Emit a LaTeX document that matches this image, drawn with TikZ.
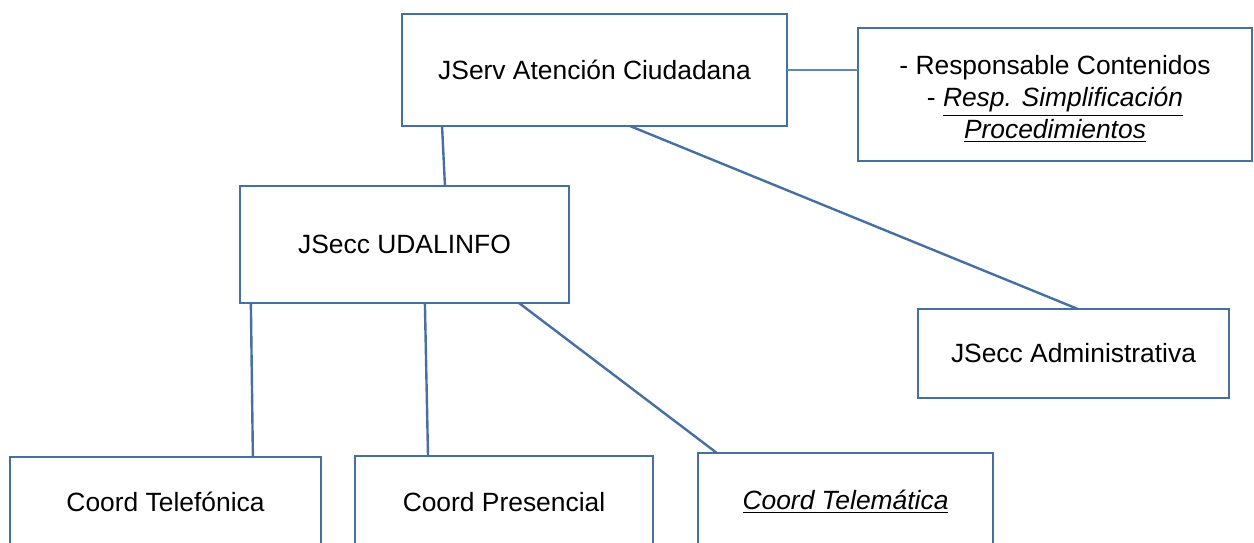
\documentclass[tikz,border=0pt]{standalone}
\usepackage{fontspec}
\setmainfont{Liberation Sans}
\usetikzlibrary{calc}
\definecolor{boxblue}{RGB}{70,112,162}
\definecolor{thinblue}{RGB}{95,135,185}
\begin{document}
\begin{tikzpicture}[x=0.5pt,y=-0.5pt,
  orgbox/.style={draw=boxblue, line width=1.4pt, fill=white, inner sep=0pt, outer sep=0pt,
    align=center, font=\fontsize{13.2}{15.5}\selectfont},
  conn/.style={draw=boxblue, line width=1.2pt},
  thinconn/.style={draw=thinblue, line width=0.6pt}]
\useasboundingbox (0,0) rectangle (1254,542);
\node[orgbox, minimum width=192.5pt, minimum height=56pt] (top) at (594.5,70) {JServ Atención Ciudadana};
\node[orgbox, minimum width=197pt, minimum height=66.5pt] (resp) at (1055,94.5) {\raisebox{-3pt}[\height][\depth]{\begin{tabular}{@{}c@{}}- Responsable Contenidos\\[0.5pt]- \underline{\textit{Resp. Simplificación}}\\[0.5pt]\underline{\textit{Procedimientos}}\end{tabular}}};
\node[orgbox, minimum width=164.5pt, minimum height=58.5pt] (udal) at (404.5,244.5) {JSecc UDALINFO};
\node[orgbox, minimum width=155.5pt, minimum height=44.5pt] (admin) at (1073.5,353.5) {JSecc Administrativa};
\node[orgbox, minimum width=155.5pt, minimum height=45pt] (tel) at (165.5,502) {Coord Telefónica};
\node[orgbox, minimum width=149pt, minimum height=46pt] (pres) at (504,502) {Coord Presencial};
\node[orgbox, minimum width=147.5pt, minimum height=49pt] (telem) at (845.5,502) {\underline{\textit{Coord Telemática}}};
\draw[thinconn] (top.east) -- (top.east -| resp.west);
\draw[conn] ($(top.south west)!0.104!(top.south east)$) -- ($(udal.north west)!0.623!(udal.north east)$);
\draw[conn] ($(top.south west)!0.592!(top.south east)$) -- ($(admin.north west)!0.514!(admin.north east)$);
\draw[conn] ($(udal.south west)!0.033!(udal.south east)$) -- ($(tel.north west)!0.781!(tel.north east)$);
\draw[conn] ($(udal.south west)!0.562!(udal.south east)$) -- ($(pres.north west)!0.245!(pres.north east)$);
\draw[conn] ($(udal.south west)!0.848!(udal.south east)$) -- ($(telem.north west)!0.064!(telem.north east)$);
\end{tikzpicture}
\end{document}
